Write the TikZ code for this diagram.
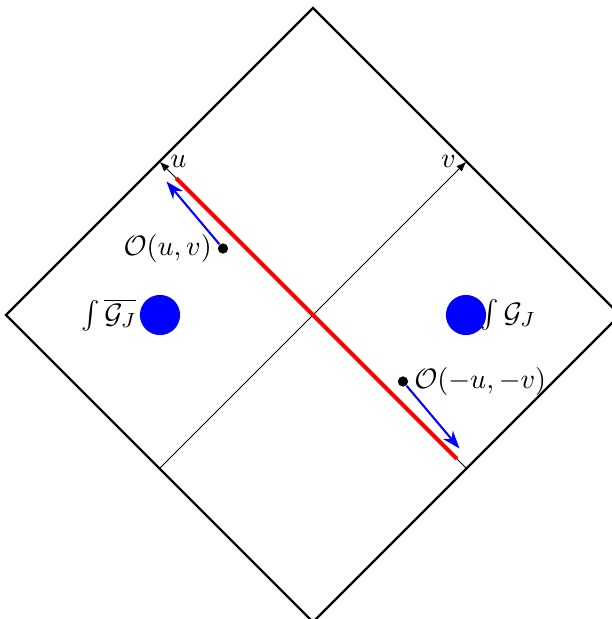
\documentclass[tikz,border=0pt]{standalone}
\usepackage{amsmath,amssymb}
\usepackage{tikz}
\usetikzlibrary{arrows.meta, positioning}

\begin{document}
\begin{tikzpicture}[x=1.37cm, y=1.37cm, >=Stealth,
    every node/.style={font=\fontsize{10.8}{13}\selectfont},
    edge/.style={line width=0.9pt},
    axis/.style={line width=0.4pt, -{Latex[length=4pt,width=3pt]}},
    flow/.style={line width=0.8pt, blue, -{Stealth[length=7pt,width=5pt]}},
    opdot/.style={circle, fill=black, inner sep=0pt, minimum size=4pt},
    blob/.style={circle, fill=blue, inner sep=0pt, minimum size=0.55cm}]
    \useasboundingbox (-3.13,-3.04) rectangle (2.99,3.15);

    % boundary of the diamond
    \coordinate (top) at (0,3.07);
    \coordinate (right) at (3.07,0);
    \coordinate (bottom) at (0,-3.07);
    \coordinate (left) at (-3.07,0);
    \draw[edge] (top) -- (right) -- (bottom) -- (left) -- cycle;

    % light-cone axes
    \coordinate (uS) at (1.535,-1.535);
    \coordinate (uN) at (-1.535,1.535);
    \coordinate (vS) at (-1.535,-1.535);
    \coordinate (vN) at (1.535,1.535);
    \draw[axis] (uS) -- (uN) node[right, inner sep=4pt] (ulab) {$u$};
    \draw[axis] (vS) -- (vN) node[left, inner sep=4pt] (vlab) {$v$};

    % the cut
    \coordinate (cutA) at (-1.37,1.37);
    \coordinate (cutB) at (1.44,-1.44);
    \draw[red, line width=1.6pt] (cutA) -- (cutB);

    % operator insertions
    \node[opdot] (Ouv) at (-0.9,0.665) {};
    \node[left=0pt of Ouv, inner sep=2pt] (Ouvlab) {$\mathcal{O}(u,v)$};
    \coordinate (Ouvend) at (-1.465,1.335);
    \draw[flow] (Ouv) -- (Ouvend);

    \node[opdot] (Omuv) at (0.9,-0.665) {};
    \node[right=0pt of Omuv, inner sep=2pt] (Omuvlab) {$\mathcal{O}(-u,-v)$};
    \coordinate (Omuvend) at (1.465,-1.335);
    \draw[flow] (Omuv) -- (Omuvend);

    % boundary conditions
    \node[blob] (GL) at (-1.53,0) {};
    \node[left=0pt of GL, inner sep=1pt] (GLlab) {$\int \overline{\mathcal{G}_J}$};
    \node[blob] (GR) at (1.53,0) {};
    \node[anchor=west, inner sep=0pt] (GRlab) at (1.67,0) {$\int \mathcal{G}_J$};
\end{tikzpicture}
\end{document}
